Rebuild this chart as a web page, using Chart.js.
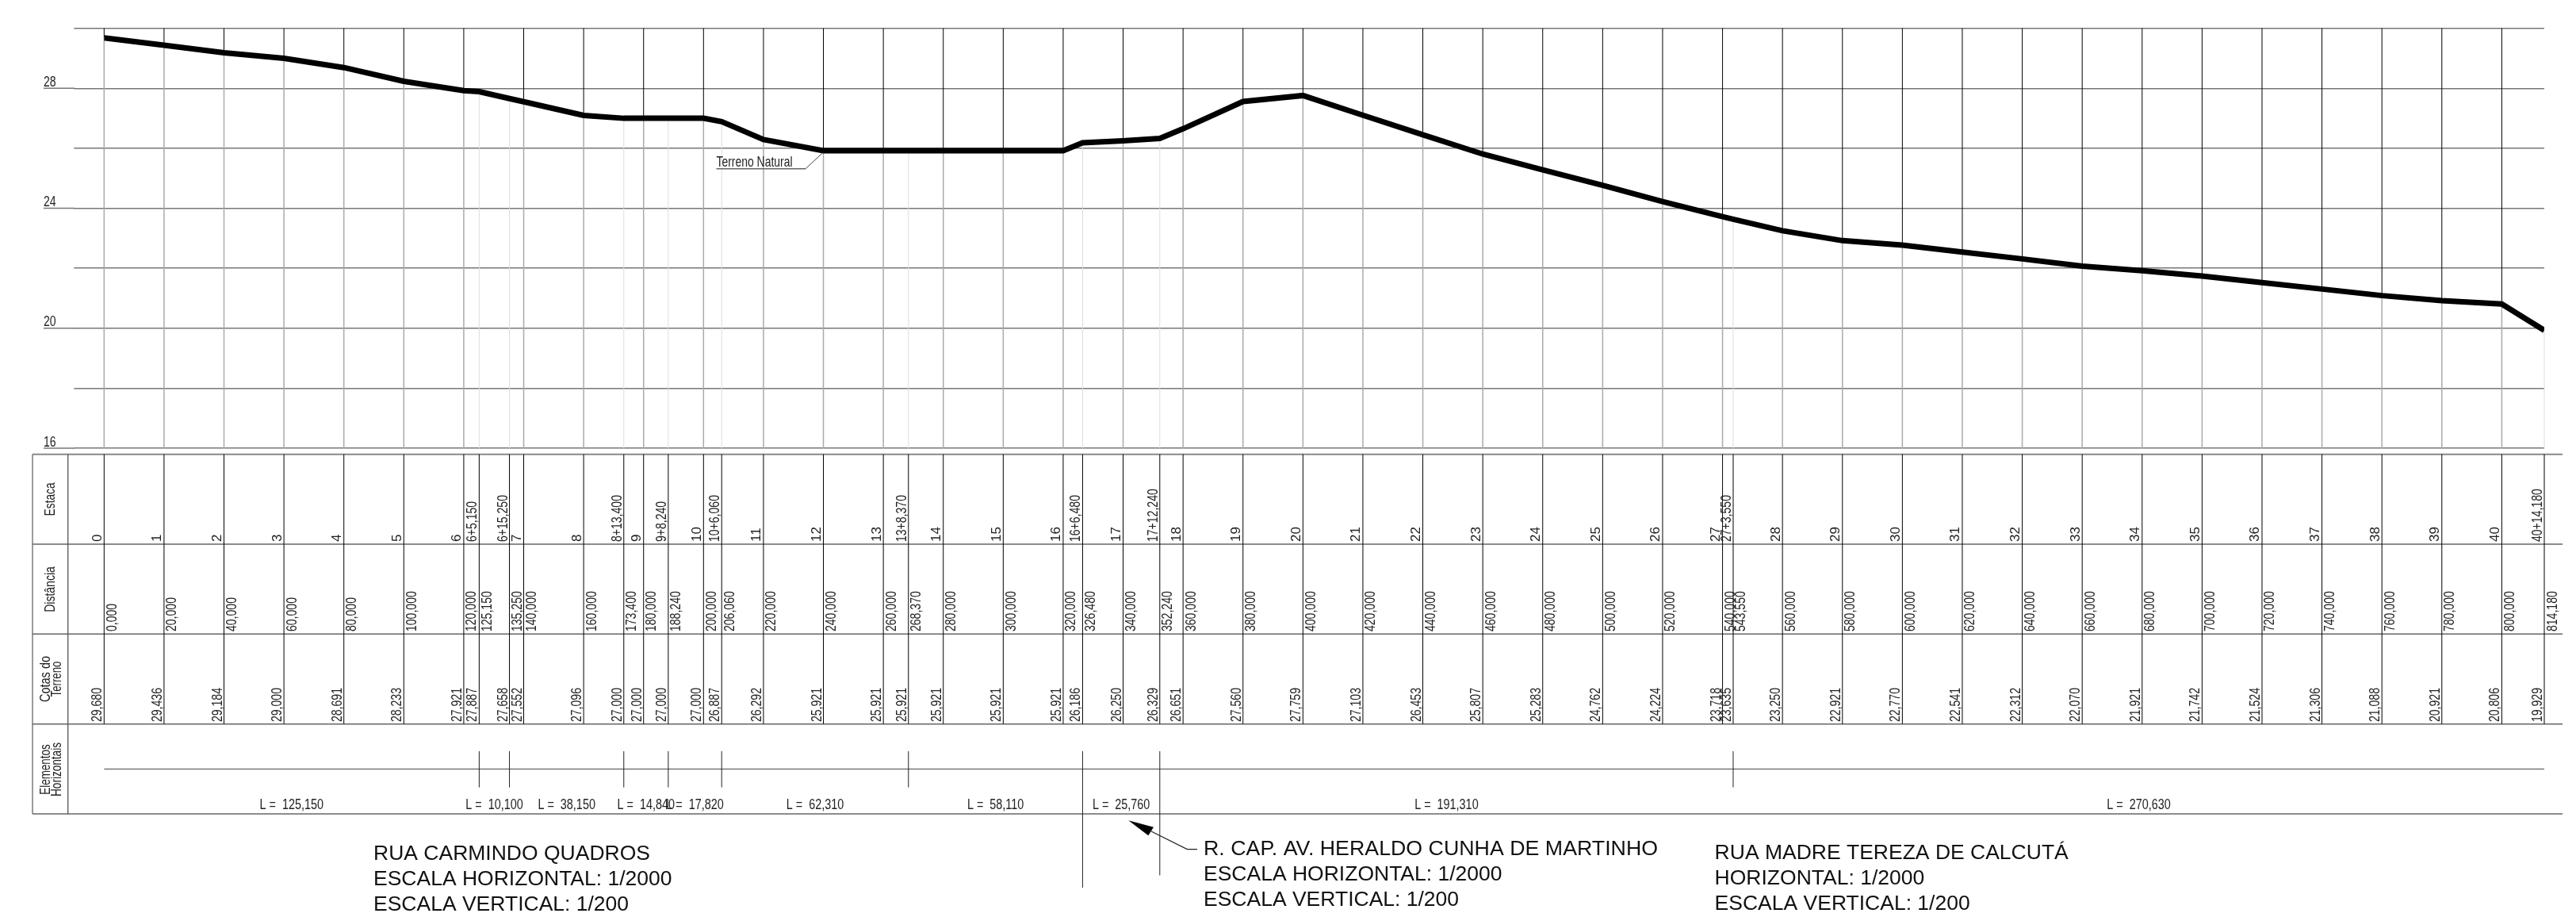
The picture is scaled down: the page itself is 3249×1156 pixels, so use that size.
<!DOCTYPE html>
<html>
<head>
<meta charset="utf-8">
<style>html,body{margin:0;padding:0;background:#fff}canvas{display:block}</style>
<script src="https://cdn.jsdelivr.net/npm/chart.js@4/dist/chart.umd.min.js"></script>
</head>
<body>
<canvas id="c" width="3249" height="1156"></canvas>
<script>
const estacas = ["0","1","2","3","4","5","6","6+5,150","6+15,250","7","8","8+13,400","9","9+8,240","10","10+6,060","11","12","13","13+8,370","14","15","16","16+6,480","17","17+12,240","18","19","20","21","22","23","24","25","26","27","27+3,550","28","29","30","31","32","33","34","35","36","37","38","39","40","40+14,180"];
const distancias = ["0,000","20,000","40,000","60,000","80,000","100,000","120,000","125,150","135,250","140,000","160,000","173,400","180,000","188,240","200,000","206,060","220,000","240,000","260,000","268,370","280,000","300,000","320,000","326,480","340,000","352,240","360,000","380,000","400,000","420,000","440,000","460,000","480,000","500,000","520,000","540,000","543,550","560,000","580,000","600,000","620,000","640,000","660,000","680,000","700,000","720,000","740,000","760,000","780,000","800,000","814,180"];
const cotas = ["29,680","29,436","29,184","29,000","28,691","28,233","27,921","27,887","27,658","27,552","27,096","27,000","27,000","27,000","27,000","26,887","26,292","25,921","25,921","25,921","25,921","25,921","25,921","26,186","26,250","26,329","26,651","27,560","27,759","27,103","26,453","25,807","25,283","24,762","24,224","23,718","23,635","23,250","22,921","22,770","22,541","22,312","22,070","21,921","21,742","21,524","21,306","21,088","20,921","20,806","19,929"];
const yLabels = [28,24,20,16];
const elemBreaks = [0,125.15,135.25,173.4,188.24,206.06,268.37,326.48,352.24,543.55,814.18];
const elemLengths = ["125,150","10,100","38,150","14,840","17,820","62,310","58,110","25,760","191,310","270,630"];
const titleBlocks = [
  ["RUA CARMINDO QUADROS","ESCALA HORIZONTAL: 1/2000","ESCALA VERTICAL: 1/200"],
  ["R. CAP. AV. HERALDO CUNHA DE MARTINHO","ESCALA HORIZONTAL: 1/2000","ESCALA VERTICAL: 1/200"],
  ["RUA MADRE TEREZA DE CALCUTÁ","HORIZONTAL: 1/2000","ESCALA VERTICAL: 1/200"]
];
const seriesName = "Terreno Natural";
const rowTitles = [["Estaca"],["Distância"],["Cotas do","Terreno"],["Elementos","Horizontais"]];

const num = s => parseFloat(s.replace(",", "."));
const points = distancias.map((d,i)=>({x:num(d),y:num(cotas[i])}));

const SANS = '"Liberation Sans"';
const SMALL = `18px ${SANS}`;
const CONDENSE = .78;
const INK = '#222';

function label(ctx,t,x,y,opt){
  ctx.save();
  ctx.translate(x,y);
  if(opt.rot) ctx.rotate(-Math.PI/2);
  ctx.font = opt.font;
  ctx.fillStyle = opt.color||INK;
  ctx.textBaseline='alphabetic';
  ctx.textAlign='left';
  const w = ctx.measureText(t).width;
  const sx = opt.len ? opt.len/w : (opt.sx||1);
  const shift = opt.center ? -w*sx/2 : 0;
  ctx.translate(shift,0);
  ctx.scale(sx,1);
  ctx.fillText(t,0,0);
  ctx.restore();
}
function seg(ctx,x1,y1,x2,y2,c,w){
  ctx.strokeStyle=c;ctx.lineWidth=w;
  ctx.beginPath();ctx.moveTo(x1,y1);ctx.lineTo(x2,y2);ctx.stroke();
}

const profilePlugin = {
  id:'profile',
  beforeDatasetsDraw(chart){
    const {ctx,scales:{x,y}} = chart;
    ctx.save();
    points.forEach((p,i)=>{
      const px=x.getPixelForValue(p.x), py=y.getPixelForValue(p.y);
      const plus=estacas[i].includes('+');
      if(!plus) seg(ctx,px,y.top,px,py,'#000',1);
      seg(ctx,px,py,px,y.bottom,plus?'#ddd':'#aaa',plus?1:1.5);
    });
    yLabels.forEach(v=>{
      const py=y.getPixelForValue(v);
      seg(ctx,55,py,94,py,'#777',1.5);
      label(ctx,String(v),55,py-2.5,{font:SMALL,sx:CONDENSE});
    });
    ctx.restore();
  },
  afterDraw(chart){
    const {ctx,scales:{x}} = chart;
    ctx.save();
    const L=41,R=3232,COL=85.7;
    const rows=[572.7,686,799.3,912.7,1026];
    const E1=947,EM=969.4,E2=992.6;

    rows.forEach((r,i)=>seg(ctx,L,r,R,r,i===0?'#888':'#666',i===0?2:1.5));
    seg(ctx,L,rows[0],L,rows[4],'#666',1.3);
    seg(ctx,COL,rows[0],COL,rows[4],'#555',1.3);

    points.forEach((p,i)=>{
      const px=x.getPixelForValue(p.x);
      seg(ctx,px,rows[0],px,rows[3],'#000',1);
      const est=estacas[i];
      if(est.includes('+')) label(ctx,est,px-3,683,{rot:true,font:SMALL,sx:CONDENSE});
      else label(ctx,est,px-3.5,683,{rot:true,font:`17px ${SANS}`});
      label(ctx,distancias[i],px+15.5,796,{rot:true,font:SMALL,sx:CONDENSE});
      label(ctx,cotas[i],px-3,910,{rot:true,font:SMALL,sx:CONDENSE});
    });

    // row titles
    label(ctx,rowTitles[0][0],69.3,629.4,{rot:true,center:true,font:SMALL,len:42});
    label(ctx,rowTitles[1][0],69.3,743,{rot:true,center:true,font:SMALL,len:57.7});
    label(ctx,rowTitles[2][0],62.7,856,{rot:true,center:true,font:SMALL,len:58});
    label(ctx,rowTitles[2][1],76.7,856,{rot:true,center:true,font:SMALL,len:45});
    label(ctx,rowTitles[3][0],62.7,970,{rot:true,center:true,font:SMALL,len:63.5});
    label(ctx,rowTitles[3][1],76.7,970,{rot:true,center:true,font:SMALL,len:68});

    // horizontal elements
    const xa=x.getPixelForValue(elemBreaks[0]), xb=x.getPixelForValue(elemBreaks[elemBreaks.length-1]);
    seg(ctx,xa,EM,xb,EM,'#777',1.5);
    elemBreaks.slice(1,-1).forEach(b=>{
      const px=x.getPixelForValue(b);
      const end = b===326.48?1119:(b===352.24?1103.5:E2);
      seg(ctx,px,E1,px,end,'#222',1);
    });
    elemLengths.forEach((t,i)=>{
      const mid=(elemBreaks[i]+elemBreaks[i+1])/2;
      label(ctx,'L =  '+t,x.getPixelForValue(mid),1020,{center:true,font:SMALL,sx:.8});
    });

    // series leader
    const lx=x.getPixelForValue(points[17].x), ly=chart.scales.y.getPixelForValue(points[17].y);
    label(ctx,seriesName,903.5,210,{font:SMALL,len:96});
    seg(ctx,903.5,212.7,1016,212.7,'#666',1.5);
    seg(ctx,1016,212.7,lx,ly+2,'#444',1);

    // titles
    const blocks=[[471,[1084,1116,1148]],[1518,[1078.3,1110,1141.7]],[2162.6,[1083,1115,1147]]];
    blocks.forEach(([bx,ys],bi)=>titleBlocks[bi].forEach((t,li)=>
      label(ctx,t,bx,ys[li],{font:`26.5px ${SANS}`,color:'#111',sx:(bi===1&&li===0)?1.01:1})));

    // arrow
    ctx.strokeStyle='#222';ctx.lineWidth=1.3;
    ctx.beginPath();ctx.moveTo(1510,1070.7);ctx.lineTo(1497.3,1070.7);ctx.lineTo(1452,1048);ctx.stroke();
    ctx.fillStyle='#000';
    ctx.beginPath();ctx.moveTo(1423.3,1034.3);ctx.lineTo(1455,1042.7);ctx.lineTo(1448.3,1053.3);ctx.closePath();ctx.fill();
    ctx.restore();
  }
};

new Chart(document.getElementById('c'),{
  type:'line',
  data:{datasets:[{
    label:seriesName,
    data:points,
    borderColor:'#000',
    borderWidth:7,
    pointRadius:0,
    tension:0,
    borderJoinStyle:'miter',
    borderCapStyle:'butt',
    fill:false
  }]},
  options:{
    responsive:false,
    animation:false,
    layout:{padding:{left:0,right:40,top:35.7,bottom:591}},
    plugins:{legend:{display:false},tooltip:{enabled:false},title:{display:false}},
    scales:{
      x:{type:'linear',min:0,max:points[points.length-1].x,display:false},
      y:{
        type:'linear',min:16,max:30,
        afterFit(s){s.width=131.3;},
        border:{display:false},
        grid:{color:'#777',lineWidth:1.5,tickLength:38,drawTicks:true,tickColor:'#777'},
        ticks:{stepSize:2,autoSkip:false,display:false}
      }
    }
  },
  plugins:[profilePlugin]
});
</script>
</body>
</html>
